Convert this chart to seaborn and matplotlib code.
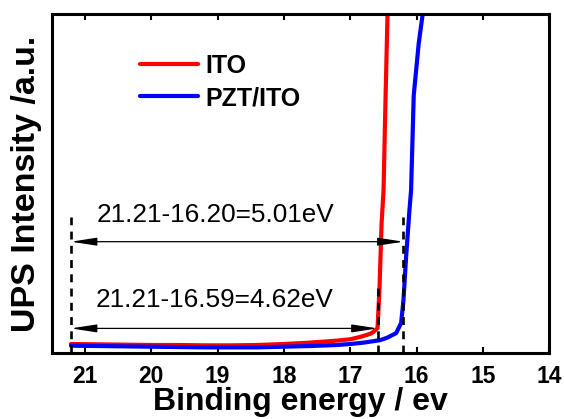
import matplotlib
matplotlib.use("Agg")
import matplotlib.pyplot as plt
import seaborn as sns
import pandas as pd

# ---- data ----
ito_x = [21.21, 20.8, 20.4, 20.0, 19.6, 19.2, 18.8, 18.4, 18.0, 17.7, 17.4, 17.2, 17.0,
         16.85, 16.7, 16.65, 16.59, 16.56, 16.53, 16.50, 16.47, 16.44, 16.42]
ito_y = [2.6, 2.5, 2.4, 2.3, 2.3, 2.2, 2.2, 2.3, 2.6, 2.9, 3.3, 3.6, 4.0,
         4.7, 5.6, 6.2, 7.3, 19.5, 38.0, 48.0, 75.0, 100.0, 112.0]
pzt_x = [21.21, 20.8, 20.4, 20.0, 19.6, 19.2, 18.8, 18.4, 18.0, 17.6, 17.2, 17.0,
         16.8, 16.56, 16.45, 16.31, 16.235, 16.20, 16.16, 16.11, 16.085, 16.045,
         15.97, 15.91, 15.88]
pzt_y = [2.1, 2.0, 1.9, 1.8, 1.7, 1.6, 1.6, 1.6, 1.8, 2.0, 2.3, 2.6,
         3.0, 3.7, 4.4, 5.8, 8.8, 15.5, 28.3, 42.0, 48.0, 76.0,
         91.3, 100.0, 106.0]
series_names = ["ITO", "PZT/ITO"]
series_colors = ["#ff0000", "#0000ff"]
xticks = [21, 20, 19, 18, 17, 16, 15, 14]
hv = 21.21
cut_pzt = 16.20
cut_ito = 16.59
label_pzt = "21.21-16.20=5.01eV"
label_ito = "21.21-16.59=4.62eV"

df = pd.DataFrame({
    "energy": ito_x + pzt_x,
    "intensity": ito_y + pzt_y,
    "sample": [series_names[0]] * len(ito_x) + [series_names[1]] * len(pzt_x),
})

sns.set_theme(style="ticks")
plt.rcParams["font.family"] = ["Liberation Sans", "DejaVu Sans"]
plt.rcParams["text.color"] = "black"
plt.rcParams["axes.labelcolor"] = "black"
plt.rcParams["xtick.color"] = "black"
plt.rcParams["ytick.color"] = "black"

fig = plt.figure(figsize=(5.64, 4.19), dpi=100)
ax = fig.add_axes([0.0917, 0.158, 0.8825, 0.8085])

sns.lineplot(data=df, x="energy", y="intensity", hue="sample",
             palette=dict(zip(series_names, series_colors)),
             estimator=None, sort=False, linewidth=3.0, ax=ax)

ax.set_xlim(21.5, 14)
ax.set_ylim(0, 100)
ax.set_xticks(xticks)
ax.set_xticklabels([str(t) for t in xticks], fontsize=16.5, fontweight="bold",
                   color="black")
ax.set_yticks([])

ax.tick_params(axis="x", direction="in", length=4, width=1.5, top=True,
               bottom=True, pad=9, colors="black")
for s in ax.spines.values():
    s.set_linewidth(2.2)
    s.set_color("black")

ax.set_xlabel("Binding energy / ev", fontsize=23, fontweight="bold",
              labelpad=-1, color="black")
ax.set_ylabel("UPS Intensity /a.u.", fontsize=24.5, fontweight="bold",
              labelpad=7, color="black")

# dashed vertical guides
dash = (0, (3.0, 2.4))
ax.plot([hv, hv], [0, 40.2], color="black", lw=1.9, linestyle=dash)
ax.plot([cut_pzt, cut_pzt], [0, 40.2], color="black", lw=1.9, linestyle=dash)
ax.plot([cut_ito, cut_ito], [0, 20.2], color="black", lw=1.9, linestyle=dash)

# arrows
astyle = "<|-|>,head_length=1.3,head_width=0.2"
ax.annotate("", xy=(cut_pzt, 32.8), xytext=(hv, 32.8),
            arrowprops=dict(arrowstyle=astyle, color="black", lw=0.9,
                            shrinkA=0, shrinkB=0))
ax.annotate("", xy=(cut_ito, 7.2), xytext=(hv, 7.2),
            arrowprops=dict(arrowstyle=astyle, color="black", lw=0.9,
                            shrinkA=0, shrinkB=0))
ax.text(19.04, 40.7, label_pzt, fontsize=18.8, ha="center", va="center",
        color="black")
ax.text(19.04, 15.5, label_ito, fontsize=18.8, ha="center", va="center",
        color="black")

leg = ax.legend(loc="upper left", bbox_to_anchor=(0.1775, 0.882),
                frameon=False,
                prop=dict(weight="bold", size=18),
                handlelength=2.3, handletextpad=0.3, labelspacing=0.32,
                borderpad=0, borderaxespad=0)
for h in leg.get_lines():
    h.set_linewidth(3.0)
for t in leg.get_texts():
    t.set_color("black")

fig.savefig("out.png", dpi=100)
